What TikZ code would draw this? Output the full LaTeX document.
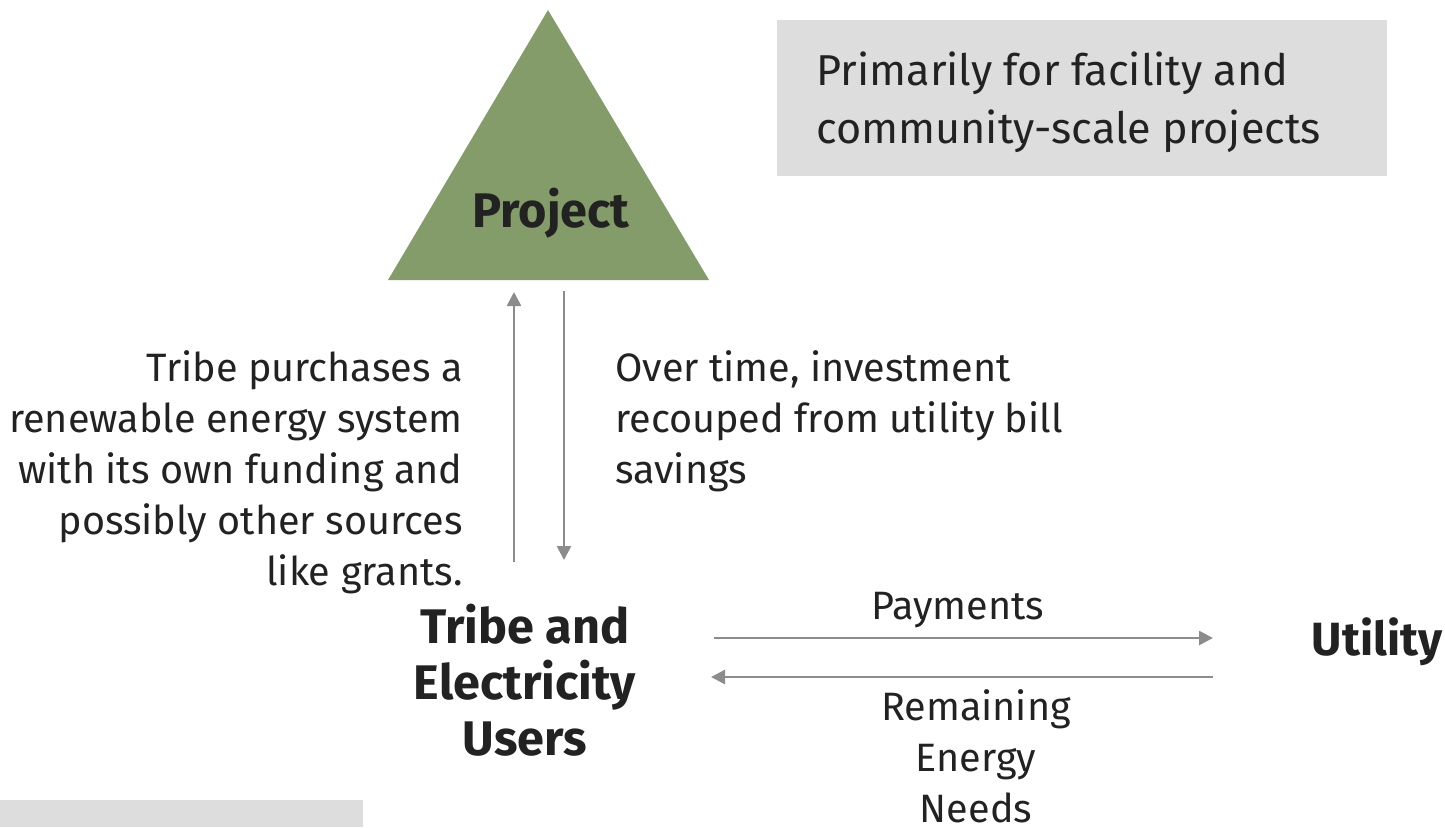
\documentclass[tikz,border=0pt]{standalone}
\usepackage{fontspec}
\setmainfont{Fira Sans}
\usetikzlibrary{arrows.meta}
\definecolor{tri}{HTML}{839C69}
\definecolor{boxgray}{HTML}{DDDDDD}
\definecolor{arr}{HTML}{8C8C8C}
\definecolor{txt}{HTML}{222222}
\begin{document}
\begin{tikzpicture}[x=0.5pt,y=-0.5pt,
  conn/.style={draw=arr,line width=1.3pt,-{Triangle[length=7pt,width=7pt]}},
  body/.style={inner sep=0pt,text=txt,font=\fontsize{19.8}{25.5}\selectfont},
  big/.style={inner sep=0pt,text=txt,font=\fontsize{24.3}{28}\selectfont\bfseries},
  note/.style={inner sep=0pt,text=txt,font=\fontsize{21.6}{29}\selectfont}]
\useasboundingbox (0,0) rectangle (1445,827);
\fill[tri] (548,10) -- (709,280) -- (388,280) -- cycle;
\node[big] (project) at (551,213) {Project};
\fill[boxgray] (777,20) rectangle (1387,176);
\node[note,align=left,anchor=west] (note) at (816,102) {Primarily for facility and\\community-scale projects};
\fill[boxgray] (0,800) rectangle (363,827);
\coordinate (upS) at (514,562);
\coordinate (upE) at (514,292);
\coordinate (dnS) at (564,291);
\coordinate (dnE) at (564,560);
\draw[conn] (upS) -- (upE);
\draw[conn] (dnS) -- (dnE);
\node[body,align=right,anchor=east] (lefttxt) at (463,472) {Tribe purchases a\\renewable energy system\\with its own funding and\\possibly other sources\\like grants.};
\node[body,align=left,anchor=west] (righttxt) at (615,421) {Over time, investment\\recouped from utility bill\\savings};
\node[big,align=center] (tribe) at (525,680) {Tribe and\\Electricity\\Users};
\node[big,font=\fontsize{23.3}{28}\selectfont\bfseries] (utility) at (1377,642) {Utility};
\coordinate (payS) at (714,638);
\coordinate (payE) at (1213,638);
\coordinate (remS) at (1213,677);
\coordinate (remE) at (711,677);
\draw[conn] (payS) -- (payE);
\draw[conn] (remS) -- (remE);
\node[body] (pay) at (958,610) {Payments};
\node[body,align=center] (rem) at (976,756) {Remaining\\Energy\\Needs};
\end{tikzpicture}
\end{document}
